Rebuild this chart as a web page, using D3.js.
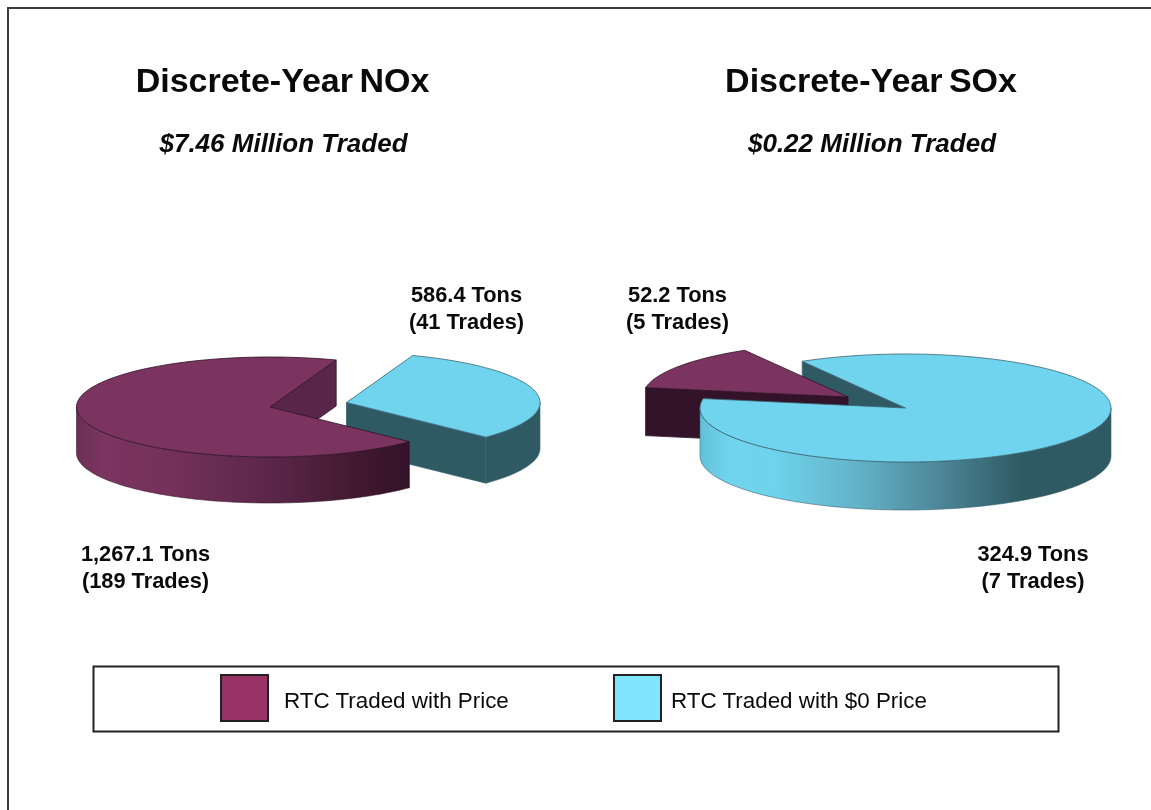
<!DOCTYPE html>
<html>
<head>
<meta charset="utf-8">
<script src="https://cdn.jsdelivr.net/npm/d3@7"></script>
<style>
html,body{margin:0;padding:0;background:#fff}
svg{display:block;filter:blur(0.45px)}
text{font-family:"Liberation Sans",Arial,sans-serif;fill:#0a0a0a}
</style>
</head>
<body>
<svg id="chart" width="1151" height="810"></svg>
<script>
const categories = ["RTC Traded with Price", "RTC Traded with $0 Price"];
const noxTons = [1267.1, 586.4];
const noxTrades = [189, 41];
const soxTons = [52.2, 324.9];
const soxTrades = [5, 7];
const titles = ["Discrete-Year NOx", "Discrete-Year SOx"];
const subtitles = ["$7.46 Million Traded", "$0.22 Million Traded"];

const svg = d3.select("#chart");
const rad = Math.PI / 180;
const TOP = ["#7b345f", "#70d4ee"], FRONT = ["#33132a", "#2f5a64"];
const EDGE = ["#2e1226", "#3a6470"];

const defs = svg.append("defs");
function grad(id, x1, x2, stops) {
  const g = defs.append("linearGradient").attr("id", id).attr("gradientUnits", "userSpaceOnUse")
    .attr("x1", x1).attr("x2", x2).attr("y1", 0).attr("y2", 0);
  stops.forEach(s => g.append("stop").attr("offset", s[0]).attr("stop-color", s[1]));
}
grad("gPurple", 76, 408, [[0, "#6c2f55"], [0.08, "#7a3560"], [0.3, "#733159"], [0.6, "#5a2648"], [0.85, "#41182f"], [1, "#33132a"]]);
grad("gCyan", 700, 1111, [[0, "#62c0d6"], [0.07, "#70d4ee"], [0.18, "#6fd3ec"], [0.38, "#64b3c9"], [0.58, "#4d8799"], [0.78, "#2f5a64"], [1, "#2f5a64"]]);

function pieGeometry(cfg) {
  const x = d3.scaleLinear().domain([-1, 1]).range([-cfg.rx, cfg.rx]);
  const y = d3.scaleLinear().domain([-1, 1]).range([-cfg.ry, cfg.ry]);
  const px = (c, a) => c[0] + x(Math.sin(a));
  const py = (c, a) => c[1] + y(-Math.cos(a));
  const arcPts = (c, a0, a1, dz) => {
    const n = Math.max(2, Math.ceil(Math.abs(a1 - a0) / (rad * 1.5)));
    return d3.range(n + 1).map(i => { const a = a0 + (a1 - a0) * i / n; return [px(c, a), py(c, a) + dz]; });
  };
  return { arcPts, px, py };
}
const line = d3.line();

function drawParts(g, geo, cfg, arc, idx, parts) {
  const c = cfg.centers[idx], a0 = arc.startAngle, a1 = arc.endAngle, d = cfg.depth;
  const radial = a => {
    const ex = geo.px(c, a), ey = geo.py(c, a);
    g.append("path").attr("d", line([c, [ex, ey], [ex, ey + d], [c[0], c[1] + d]]) + "Z")
      .attr("fill", cfg.radialFill[idx]).attr("stroke", EDGE[idx]).attr("stroke-width", 0.8);
  };
  if (parts.includes("radial")) {
    if (Math.sin(a0) < 0) radial(a0);
    if (Math.sin(a1) > 0) radial(a1);
  }
  if (parts.includes("front")) {
    const f0 = Math.max(a0, 90 * rad), f1 = Math.min(a1, 270 * rad);
    if (f1 > f0) {
      const topEdge = geo.arcPts(c, f0, f1, 0), botEdge = geo.arcPts(c, f1, f0, d);
      g.append("path").attr("d", line(topEdge.concat(botEdge)) + "Z")
        .attr("fill", cfg.wallFill[idx]).attr("stroke", cfg.wallStroke[idx]).attr("stroke-width", 0.6);
    }
  }
  if (parts.includes("top")) {
    g.append("path").attr("d", line([c].concat(geo.arcPts(c, a0, a1, 0))) + "Z")
      .attr("fill", TOP[idx]).attr("stroke", EDGE[idx]).attr("stroke-width", 0.8).attr("stroke-linejoin", "round");
  }
}

const pieCfgs = [
  { tons: noxTons, order: [1, 0], start: 20, rx: 193.5, ry: 50, depth: 46,
    centers: [[270, 407], [346.5, 402.5]],
    radialFill: ["#5a2648", FRONT[1]],
    wallFill: ["url(#gPurple)", FRONT[1]], wallStroke: ["#3a1a30", EDGE[1]],
    layers: [[1, ["radial", "front", "top"]], [0, ["radial", "front", "top"]]] },
  { tons: soxTons, order: [0, 1], start: -80, rx: 205.5, ry: 54, depth: 48,
    centers: [[848, 397], [905.5, 408]],
    radialFill: [FRONT[0], FRONT[1]],
    wallFill: [FRONT[0], "url(#gCyan)"], wallStroke: [EDGE[0], "#3a6470"],
    layers: [[1, ["radial"]], [0, ["radial", "front", "top"]], [1, ["front", "top"]]] }
];

pieCfgs.forEach(cfg => {
  const arcs = d3.pie().sort(null).value(d => d)
    .startAngle(cfg.start * rad).endAngle((cfg.start + 360) * rad)(cfg.order.map(i => cfg.tons[i]));
  const geo = pieGeometry(cfg);
  const g = svg.append("g");
  cfg.layers.forEach(([idx, parts]) => {
    drawParts(g, geo, cfg, arcs.find(a => a.data === cfg.tons[idx]), idx, parts);
  });
});

// frame
svg.append("path").attr("d", "M1151,8 H8 V810").attr("fill", "none").attr("stroke", "#3c3c3c").attr("stroke-width", 2);

// titles
[282.5, 871].forEach((cx, i) => {
  svg.append("text").attr("x", cx).attr("y", 92).attr("text-anchor", "middle")
    .attr("font-size", 34).attr("font-weight", "bold").attr("word-spacing", -3).text(titles[i]);
  svg.append("text").attr("x", cx + 1).attr("y", 152).attr("text-anchor", "middle")
    .attr("font-size", 26).attr("font-weight", "bold").attr("font-style", "italic").text(subtitles[i]);
});

// labels
const fmt = d3.format(",.1f");
function label(cx, y, tons, trades) {
  svg.append("text").attr("x", cx).attr("y", y).attr("text-anchor", "middle")
    .attr("font-size", 21.8).attr("font-weight", "bold").text(fmt(tons) + " Tons");
  svg.append("text").attr("x", cx).attr("y", y + 27).attr("text-anchor", "middle")
    .attr("font-size", 21.8).attr("font-weight", "bold").text("(" + trades + " Trades)");
}
label(466.5, 302, noxTons[1], noxTrades[1]);
label(145.5, 561, noxTons[0], noxTrades[0]);
label(677.5, 302, soxTons[0], soxTrades[0]);
label(1033, 561, soxTons[1], soxTrades[1]);

// legend
svg.append("rect").attr("x", 93.5).attr("y", 666.5).attr("width", 965).attr("height", 65)
  .attr("fill", "#fff").attr("stroke", "#222").attr("stroke-width", 2);
const legendFill = ["#993366", "#7fe5ff"];
[[221, 284], [614, 671]].forEach((p, i) => {
  svg.append("rect").attr("x", p[0]).attr("y", 675).attr("width", 47).attr("height", 46)
    .attr("fill", legendFill[i]).attr("stroke", "#222").attr("stroke-width", 2);
  svg.append("text").attr("x", p[1]).attr("y", 708).attr("font-size", 22.4).attr("fill", "#1a1a1a").text(categories[i]);
});
</script>
</body>
</html>
